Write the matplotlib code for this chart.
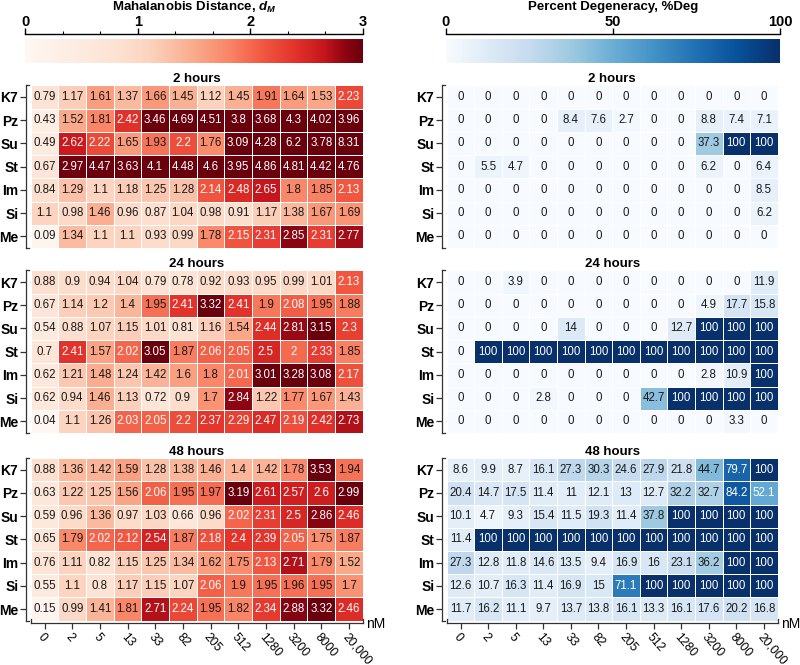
import numpy as np
import matplotlib.pyplot as plt
from matplotlib.colors import Normalize, LinearSegmentedColormap

plt.rcParams['font.family'] = ['Liberation Sans', 'DejaVu Sans']
plt.rcParams['mathtext.fontset'] = 'custom'
plt.rcParams['mathtext.it'] = 'Liberation Sans:italic:bold'
plt.rcParams['mathtext.rm'] = 'Liberation Sans:bold'

# Data ------------------------------------------------------------------------

conc = ['0', '2', '5', '13', '33', '82', '205', '512', '1280', '3200', '8000', '20,000']
rows = ['K7', 'Pz', 'Su', 'St', 'Im', 'Si', 'Me']
times = ['2 hours', '24 hours', '48 hours']

# Mahalanobis distance
dm_2h = [
    [0.79, 1.17, 1.61, 1.37, 1.66, 1.45, 1.12, 1.45, 1.91, 1.64, 1.53, 2.23],
    [0.43, 1.52, 1.81, 2.42, 3.46, 4.69, 4.51, 3.8, 3.68, 4.3, 4.02, 3.96],
    [0.49, 2.62, 2.22, 1.65, 1.93, 2.2, 1.76, 3.09, 4.28, 6.2, 3.78, 8.31],
    [0.67, 2.97, 4.47, 3.63, 4.1, 4.48, 4.6, 3.95, 4.86, 4.81, 4.42, 4.76],
    [0.84, 1.29, 1.1, 1.18, 1.25, 1.28, 2.14, 2.48, 2.65, 1.8, 1.85, 2.13],
    [1.1, 0.98, 1.46, 0.96, 0.87, 1.04, 0.98, 0.91, 1.17, 1.38, 1.67, 1.69],
    [0.09, 1.34, 1.1, 1.1, 0.93, 0.99, 1.78, 2.15, 2.31, 2.85, 2.31, 2.77],
]
dm_24h = [
    [0.88, 0.9, 0.94, 1.04, 0.79, 0.78, 0.92, 0.93, 0.95, 0.99, 1.01, 2.13],
    [0.67, 1.14, 1.2, 1.4, 1.95, 2.41, 3.32, 2.41, 1.9, 2.08, 1.95, 1.88],
    [0.54, 0.88, 1.07, 1.15, 1.01, 0.81, 1.16, 1.54, 2.44, 2.81, 3.15, 2.3],
    [0.7, 2.41, 1.57, 2.02, 3.05, 1.87, 2.06, 2.05, 2.5, 2, 2.33, 1.85],
    [0.62, 1.21, 1.48, 1.24, 1.42, 1.6, 1.8, 2.01, 3.01, 3.28, 3.08, 2.17],
    [0.62, 0.94, 1.46, 1.13, 0.72, 0.9, 1.7, 2.84, 1.22, 1.77, 1.67, 1.43],
    [0.04, 1.1, 1.26, 2.03, 2.05, 2.2, 2.37, 2.29, 2.47, 2.19, 2.42, 2.73],
]
dm_48h = [
    [0.88, 1.36, 1.42, 1.59, 1.28, 1.38, 1.46, 1.4, 1.42, 1.78, 3.53, 1.94],
    [0.63, 1.22, 1.25, 1.56, 2.06, 1.95, 1.97, 3.19, 2.61, 2.57, 2.6, 2.99],
    [0.59, 0.96, 1.36, 0.97, 1.03, 0.66, 0.96, 2.02, 2.31, 2.5, 2.86, 2.46],
    [0.65, 1.79, 2.02, 2.12, 2.54, 1.87, 2.18, 2.4, 2.39, 2.05, 1.75, 1.87],
    [0.76, 1.11, 0.82, 1.15, 1.25, 1.34, 1.62, 1.75, 2.13, 2.71, 1.79, 1.52],
    [0.55, 1.1, 0.8, 1.17, 1.15, 1.07, 2.06, 1.9, 1.95, 1.96, 1.95, 1.7],
    [0.15, 0.99, 1.41, 1.81, 2.71, 2.24, 1.95, 1.82, 2.34, 2.88, 3.32, 2.46],
]

# Percent degeneracy
deg_2h = [
    [0, 0, 0, 0, 0, 0, 0, 0, 0, 0, 0, 0],
    [0, 0, 0, 0, 8.4, 7.6, 2.7, 0, 0, 8.8, 7.4, 7.1],
    [0, 0, 0, 0, 0, 0, 0, 0, 0, 37.3, 100, 100],
    [0, 5.5, 4.7, 0, 0, 0, 0, 0, 0, 6.2, 0, 6.4],
    [0, 0, 0, 0, 0, 0, 0, 0, 0, 0, 0, 8.5],
    [0, 0, 0, 0, 0, 0, 0, 0, 0, 0, 0, 6.2],
    [0, 0, 0, 0, 0, 0, 0, 0, 0, 0, 0, 0],
]
deg_24h = [
    [0, 0, 3.9, 0, 0, 0, 0, 0, 0, 0, 0, 11.9],
    [0, 0, 0, 0, 0, 0, 0, 0, 0, 4.9, 17.7, 15.8],
    [0, 0, 0, 0, 14, 0, 0, 0, 12.7, 100, 100, 100],
    [0, 100, 100, 100, 100, 100, 100, 100, 100, 100, 100, 100],
    [0, 0, 0, 0, 0, 0, 0, 0, 0, 2.8, 10.9, 100],
    [0, 0, 0, 2.8, 0, 0, 0, 42.7, 100, 100, 100, 100],
    [0, 0, 0, 0, 0, 0, 0, 0, 0, 0, 3.3, 0],
]
deg_48h = [
    [8.6, 9.9, 8.7, 16.1, 27.3, 30.3, 24.6, 27.9, 21.8, 44.7, 79.7, 100],
    [20.4, 14.7, 17.5, 11.4, 11, 12.1, 13, 12.7, 32.2, 32.7, 84.2, 52.1],
    [10.1, 4.7, 9.3, 15.4, 11.5, 19.3, 11.4, 37.8, 100, 100, 100, 100],
    [11.4, 100, 100, 100, 100, 100, 100, 100, 100, 100, 100, 100],
    [27.3, 12.8, 11.8, 14.6, 13.5, 9.4, 16.9, 16, 23.1, 36.2, 100, 100],
    [12.6, 10.7, 16.3, 11.4, 16.9, 15, 71.1, 100, 100, 100, 100, 100],
    [11.7, 16.2, 11.1, 9.7, 13.7, 13.8, 16.1, 13.3, 16.1, 17.6, 20.2, 16.8],
]

# Colour scale for the distance panels (lighter in the middle than plain Reds)
reds = LinearSegmentedColormap.from_list('reds_dm', [
    (0.0, (1.0, 0.97, 0.95)),
    (0.8 / 3, (0.99, 0.89, 0.83)),
    (1.1 / 3, (0.99, 0.83, 0.75)),
    (1.5 / 3, (0.98, 0.67, 0.55)),
    (1.8 / 3, (0.98, 0.53, 0.41)),
    (2.1 / 3, (0.95, 0.35, 0.26)),
    (2.4 / 3, (0.89, 0.20, 0.17)),
    (2.65 / 3, (0.78, 0.09, 0.11)),
    (2.85 / 3, (0.55, 0.02, 0.07)),
    (1.0, (0.42, 0.0, 0.05)),
])

# Drawing ---------------------------------------------------------------------

fig = plt.figure(figsize=(8, 6.65), dpi=100)

panel_bottoms = [0.6271, 0.3489, 0.0666]
panel_h = 0.2445
cols = [
    dict(x0=0.0384, w=0.415, data=[dm_2h, dm_24h, dm_48h], cmap=reds,
         vmax=3, white=2.0),
    dict(x0=0.5584, w=0.41375, data=[deg_2h, deg_24h, deg_48h], cmap='Blues',
         vmax=100, white=50),
]


def fmt(v):
    return '%g' % v


def bracket_spines(ax, bottom_axis):
    # left spine with small hooks at both ends
    ax.spines['left'].set_position(('outward', 3.5))
    ax.spines['left'].set_linewidth(0.9)
    ax.spines['left'].set_color('#333333')
    dx = 4.7 / (ax.bbox.width)
    for yy in (0, 1):
        ax.plot([-dx, -dx + 0.008], [yy, yy], transform=ax.transAxes,
                color='#333333', lw=0.9, clip_on=False)
    if bottom_axis:
        ax.spines['bottom'].set_position(('outward', 2))
        ax.spines['bottom'].set_linewidth(0.9)
        ax.spines['bottom'].set_color('#333333')
        dy = 2.7 / ax.bbox.height
        for xx in (0, 1):
            ax.plot([xx, xx], [-dy, -dy + 0.025], transform=ax.transAxes,
                    color='#333333', lw=0.9, clip_on=False)


for c in cols:
    norm = Normalize(0, c['vmax'])
    for k, (data, b) in enumerate(zip(c['data'], panel_bottoms)):
        arr = np.array(data, dtype=float)
        ax = fig.add_axes([c['x0'], b, c['w'], panel_h])
        ax.pcolormesh(np.clip(arr, 0, c['vmax']), cmap=c['cmap'], norm=norm,
                      edgecolors='white', linewidth=0.6)
        ax.set_xlim(0, 12)
        ax.set_ylim(7, 0)
        for i in range(arr.shape[0]):
            for j in range(arr.shape[1]):
                v = arr[i, j]
                col = 'white' if v >= c['white'] else '#1a1a1a'
                ax.text(j + 0.5, i + 0.5, fmt(v), ha='center', va='center',
                        fontsize=8.3, color=col)
        for s in ['top', 'right']:
            ax.spines[s].set_visible(False)
        last = (k == 2)
        if not last:
            ax.spines['bottom'].set_visible(False)
        # spines first: moving a spine resets the ticks
        bracket_spines(ax, last)
        ax.set_yticks(np.arange(7) + 0.5)
        ax.set_yticklabels(rows, fontsize=10, fontweight='bold')
        ax.tick_params(axis='y', length=4, width=0.9, pad=1.5, colors='#333333',
                       labelcolor='black')
        if last:
            ax.set_xticks(np.arange(12) + 0.5)
            ax.set_xticklabels(conc, fontsize=8.7, rotation=-49, ha='left',
                               va='top', rotation_mode='anchor')
            ax.tick_params(axis='x', length=4, width=0.9, pad=1.5,
                           colors='#333333', labelcolor='black')
            ax.text(1.01, -0.02, 'nM', transform=ax.transAxes, ha='left',
                    va='center', fontsize=10)
        else:
            ax.set_xticks([])
        ax.set_title(times[k], fontsize=9.5, fontweight='bold', pad=2)

# Colorbars -------------------------------------------------------------------

cbars = [
    dict(x0=0.03125, w=0.4225, cmap=reds, vmax=3, ticks=[0, 1, 2, 3],
         minor=[1 / 3, 2 / 3, 4 / 3, 5 / 3, 7 / 3, 8 / 3],
         title='Mahalanobis Distance, $d_M$'),
    dict(x0=0.5575, w=0.4175, cmap='Blues', vmax=100, ticks=[0, 50, 100],
         minor=[], title='Percent Degeneracy, %Deg'),
]

grad = np.linspace(0, 1, 256).reshape(1, -1)
for cb in cbars:
    ax = fig.add_axes([cb['x0'], 0.9057, cb['w'], 0.0352])
    ax.imshow(grad, cmap=cb['cmap'], aspect='auto',
              extent=[0, cb['vmax'], 0, 1])
    ax.set_xlim(0, cb['vmax'])
    ax.set_yticks([])
    for s in ['left', 'right', 'bottom']:
        ax.spines[s].set_visible(False)
    ax.spines['top'].set_position(('outward', 3.5))
    ax.spines['top'].set_linewidth(1.0)
    ax.xaxis.set_ticks_position('top')
    ax.set_xticks(cb['ticks'])
    ax.set_xticklabels([str(t) for t in cb['ticks']], fontsize=10.5,
                       fontweight='bold')
    ax.set_xticks(cb['minor'], minor=True)
    ax.tick_params(axis='x', which='major', length=4, width=1.0, pad=0)
    ax.tick_params(axis='x', which='minor', length=2.5, width=0.8)
    fig.text(cb['x0'] + cb['w'] / 2, 1 - 7 / 665, cb['title'], ha='center',
             va='center', fontsize=9.5, fontweight='bold')

fig.savefig('out.png', dpi=100)
